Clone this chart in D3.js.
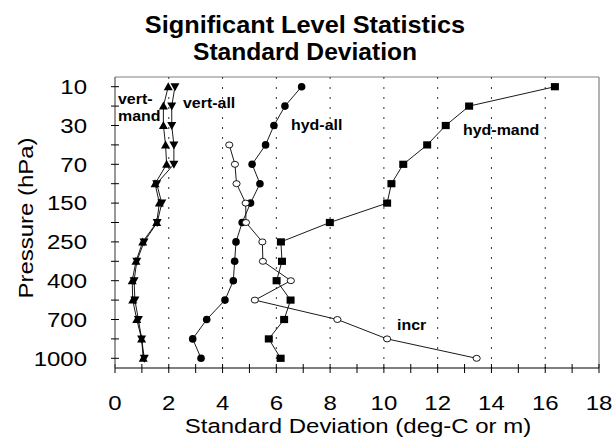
<!DOCTYPE html>
<html>
<head>
<meta charset="utf-8">
<script src="https://cdn.jsdelivr.net/npm/d3@7"></script>
<style>
  body { margin: 0; background: #fff; }
  svg { display: block; font-family: "Liberation Sans", Arial, sans-serif; }
</style>
</head>
<body>
<svg id="chart" width="613" height="443"></svg>
<script>
// Pressure levels (hPa), top of atmosphere first
const levels = [10, 20, 30, 50, 70, 100, 150, 200, 250, 300, 400, 500, 700, 850, 1000];
const levelLabels = ["10", "30", "70", "150", "250", "400", "700", "1000"];
const xTicks = [0, 2, 4, 6, 8, 10, 12, 14, 16, 18];

// Standard deviation per level (deg-C or m); null = no value
const vertMand = [1.98, 1.80, 1.80, 1.88, 1.92, 1.49, 1.65, 1.55, 1.03, 0.78, 0.64, 0.66, 0.81, 0.99, 1.05];
const vertAll  = [2.23, 2.11, 2.11, 2.19, 2.19, 1.55, 1.74, 1.57, 1.08, 0.81, 0.71, 0.74, 0.87, 0.99, 1.09];
const hydAll   = [6.94, 6.32, 5.91, 5.60, 5.10, 5.39, 5.04, 4.73, 4.50, 4.45, 4.40, 4.09, 3.41, 2.89, 3.20];
const hydMand  = [16.36, 13.17, 12.30, 11.61, 10.72, 10.28, 10.12, 7.99, 6.17, 6.21, 6.01, 6.53, 6.29, 5.72, 6.16];
const incr     = [null, null, null, 4.25, 4.46, 4.52, 4.86, 4.87, 5.48, 5.50, 6.54, 5.20, 8.27, 10.12, 13.45];

const svg = d3.select("#chart");
const plotLeft = 115, plotRight = 599, plotTop = 77, plotBottom = 368;
const WIDEN = 1.17; // glyphs are set a little wider than the stock face

const x = d3.scaleLinear().domain([0, 18]).range([plotLeft, plotRight]);
const y = d3.scalePoint().domain(levels).range([plotTop, plotBottom]).padding(0.5);

// Text helper: places a string at (tx, ty) with optional rotation and widened glyphs
function label(parent, str, tx, ty, opts = {}) {
  const t = parent.append("text")
    .attr("transform", `translate(${tx},${ty})${opts.rotate ? ` rotate(${opts.rotate})` : ""} scale(${opts.widen || WIDEN},1)`)
    .attr("text-anchor", opts.anchor || "start")
    .attr("font-size", opts.size || 20)
    .attr("font-weight", opts.bold ? "bold" : "normal")
    .text(str);
  if (opts.dy) t.attr("dy", opts.dy);
  return t;
}

// Title
label(svg, "Significant Level Statistics", 305, 33, { anchor: "middle", size: 23, bold: true, widen: 1.1 });
label(svg, "Standard Deviation", 305, 60, { anchor: "middle", size: 23, bold: true, widen: 1.07 });

// Frame: light top and right edges
svg.append("line").attr("x1", plotLeft).attr("x2", plotRight).attr("y1", plotTop).attr("y2", plotTop)
  .attr("stroke", "#aaa").attr("stroke-width", 1.5);
svg.append("line").attr("x1", plotRight).attr("x2", plotRight).attr("y1", plotTop).attr("y2", plotBottom)
  .attr("stroke", "#999").attr("stroke-width", 1.5);

// Dotted vertical gridlines
svg.append("g").selectAll("line").data(xTicks.filter(d => d > 0 && d < 18)).join("line")
  .attr("x1", d => x(d)).attr("x2", d => x(d)).attr("y1", plotTop).attr("y2", plotBottom)
  .attr("stroke", "#333").attr("stroke-width", 1).attr("stroke-dasharray", "2,8");

// X axis with a minor tick at every unit, ticks crossing the axis line
const xAxis = svg.append("g").attr("transform", `translate(0,${plotBottom})`);
xAxis.append("line").attr("x1", plotLeft).attr("x2", plotRight).attr("stroke", "#000").attr("stroke-width", 1.2);
xAxis.selectAll("line.t").data(d3.range(0, 19)).join("line").attr("class", "t")
  .attr("x1", d => x(d)).attr("x2", d => x(d)).attr("y1", -4).attr("y2", 5)
  .attr("stroke", "#000").attr("stroke-width", 1);
xTicks.forEach(d => label(xAxis, d, x(d), 42, { anchor: "middle", size: 20.5 }));

// Y axis
const yAxis = svg.append("g");
yAxis.append("line").attr("x1", plotLeft).attr("x2", plotLeft).attr("y1", plotTop).attr("y2", plotBottom)
  .attr("stroke", "#555").attr("stroke-width", 1.2);
yAxis.selectAll("line.t").data(levels).join("line").attr("class", "t")
  .attr("x1", plotLeft - 4).attr("x2", plotLeft + 4).attr("y1", d => y(d)).attr("y2", d => y(d))
  .attr("stroke", "#000").attr("stroke-width", 1);
levels.filter(l => levelLabels.includes(String(l)))
  .forEach(l => label(yAxis, l, 87, y(l), { anchor: "end", size: 20.5, dy: "0.36em" }));

// Axis titles
label(svg, "Standard Deviation (deg-C or m)", 358, 433, { anchor: "middle", size: 20.5 });
label(svg, "Pressure (hPa)", 33, 218, { anchor: "middle", size: 20.5, rotate: -90 });

// Series
const line = d3.line().defined(d => d.v != null).x(d => x(d.v)).y(d => y(d.p));
const series = [
  { values: vertMand, shape: "triUp" },
  { values: vertAll, shape: "triDown" },
  { values: hydAll, shape: "circle" },
  { values: hydMand, shape: "square" },
  { values: incr, shape: "open" }
];

series.forEach(s => {
  const pts = levels.map((p, i) => ({ p, v: s.values[i] }));
  svg.append("path").datum(pts).attr("d", line)
    .attr("fill", "none").attr("stroke", "#000").attr("stroke-width", 0.9);
  const g = svg.append("g");
  const valid = pts.filter(d => d.v != null);
  if (s.shape === "circle") {
    g.selectAll("circle").data(valid).join("circle")
      .attr("cx", d => x(d.v)).attr("cy", d => y(d.p)).attr("r", 3.8).attr("fill", "#000");
  } else if (s.shape === "open") {
    g.selectAll("ellipse").data(valid).join("ellipse")
      .attr("cx", d => x(d.v)).attr("cy", d => y(d.p)).attr("rx", 3.6).attr("ry", 3)
      .attr("fill", "#fff").attr("stroke", "#000").attr("stroke-width", 0.9);
  } else if (s.shape === "square") {
    g.selectAll("rect").data(valid).join("rect")
      .attr("x", d => x(d.v) - 4).attr("y", d => y(d.p) - 3.6).attr("width", 8).attr("height", 7.2)
      .attr("fill", "#000");
  } else {
    const up = s.shape === "triUp";
    g.selectAll("path").data(valid).join("path")
      .attr("transform", d => `translate(${x(d.v)},${y(d.p)})`)
      .attr("d", up ? "M0,-4.5L4.5,3.5L-4.5,3.5Z" : "M0,4.5L4.5,-3.5L-4.5,-3.5Z")
      .attr("fill", "#000");
  }
});

// Series labels
const seriesLabels = [
  { t: "vert-", x: 118, y: 104 },
  { t: "mand", x: 118, y: 121 },
  { t: "vert-all", x: 183, y: 108 },
  { t: "hyd-all", x: 291, y: 130 },
  { t: "hyd-mand", x: 463, y: 135 },
  { t: "incr", x: 397, y: 330 }
];
const labelGroup = svg.append("g");
seriesLabels.forEach(d => label(labelGroup, d.t, d.x, d.y, { size: 14.5, bold: true, widen: 1.1 }));
</script>
</body>
</html>
